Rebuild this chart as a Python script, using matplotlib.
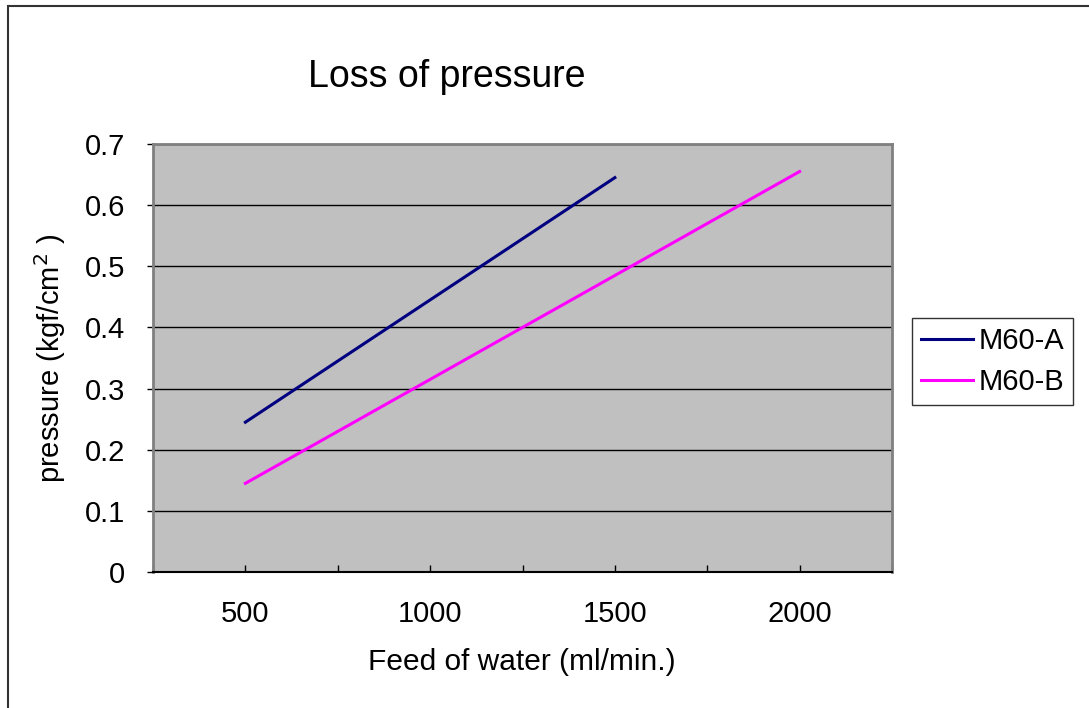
import matplotlib.pyplot as plt
from matplotlib.patches import Rectangle

plt.rcParams['font.family'] = ['Liberation Sans', 'DejaVu Sans']

# data
feed_a = [500, 1000, 1500]
press_a = [0.245, 0.445, 0.645]
feed_b = [500, 1000, 1500, 2000]
press_b = [0.145, 0.315, 0.485, 0.655]
xticks = [250, 500, 750, 1000, 1250, 1500, 1750, 2000, 2250]
xtick_labels = ['', '500', '', '1000', '', '1500', '', '2000', '']
yticks = [0, 0.1, 0.2, 0.3, 0.4, 0.5, 0.6, 0.7]
ytick_labels = ['0', '0.1', '0.2', '0.3', '0.4', '0.5', '0.6', '0.7']

W, H = 1089, 708
fig = plt.figure(figsize=(W / 100, H / 100), dpi=100)
ax = fig.add_axes([153 / W, 1 - 572 / H, (892 - 153) / W, (572 - 144) / H])
ax.set_facecolor('#c0c0c0')

# outer chart border
fig.patches.append(Rectangle((8 / W, -0.1), 1.2, 1 - 6 / H + 0.1, transform=fig.transFigure,
                             fill=False, edgecolor='#333333', linewidth=1.5))

for y in yticks[1:]:
    ax.axhline(y, color='black', linewidth=1, zorder=1)

ax.plot(feed_a, press_a, color='#000080', linewidth=2.2, label='M60-A', zorder=3)
ax.plot(feed_b, press_b, color='#ff00ff', linewidth=2.2, label='M60-B', zorder=3)

ax.set_xlim(250, 2250)
ax.set_ylim(0, 0.7)
ax.set_xticks(xticks)
ax.set_xticklabels(xtick_labels, fontsize=21)
ax.set_yticks(yticks)
ax.set_yticklabels(ytick_labels, fontsize=21)
ax.tick_params(axis='x', direction='in', length=5, pad=20, width=1)
ax.tick_params(axis='y', direction='out', length=4, pad=16, width=1)

for s in ['left', 'right', 'top']:
    ax.spines[s].set_color('#808080')
    ax.spines[s].set_linewidth(2)
ax.spines['bottom'].set_color('black')
ax.spines['bottom'].set_linewidth(1.5)

fig.text(447 / W, 1 - 77 / H, 'Loss of pressure', fontsize=27, ha='center', va='center')
fig.text(522 / W, 1 - 662 / H, 'Feed of water (ml/min.)', fontsize=21.5, ha='center', va='center')
fig.text(50 / W, 1 - 358 / H, 'pressure (kgf/cm$^2$ )', fontsize=21, rotation=90,
         ha='center', va='center')

leg = fig.legend(loc='upper left', bbox_to_anchor=(912 / W, 1 - 318 / H), fontsize=21,
                 frameon=True, fancybox=False, edgecolor='black', handlelength=1.8,
                 borderaxespad=0, handletextpad=0.2, labelspacing=0.45, borderpad=0.3)
leg.get_frame().set_linewidth(1)

fig.savefig('out.png', dpi=100)
